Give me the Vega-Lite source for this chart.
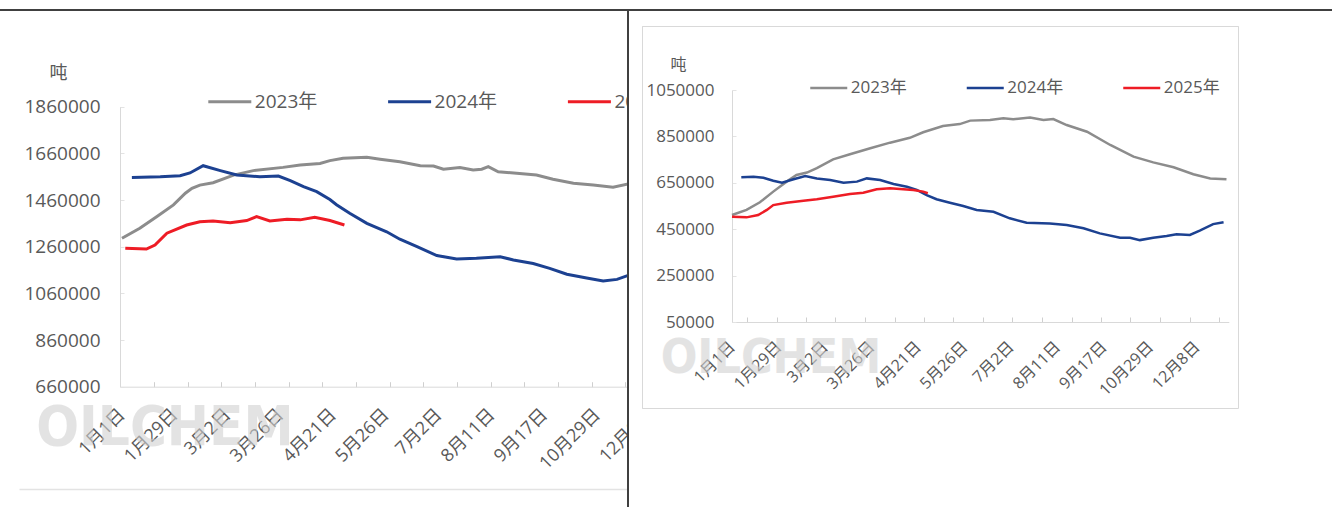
{
  "$schema": "https://vega.github.io/schema/vega-lite/v6.json",
  "usermeta": {"embedOptions": {"actions": false}},
  "padding": {"left": -2, "top": 9, "right": 0, "bottom": 0},
  "autosize": {"type": "pad"},
  "background": "white",
  "bounds": "flush",
  "spacing": 0,
  "datasets": {
    "left": [
      {"series": "2023年", "k": 0, "value": 1296000},
      {"series": "2023年", "k": 2.7, "value": 1339000},
      {"series": "2023年", "k": 5.3, "value": 1389000},
      {"series": "2023年", "k": 7.8, "value": 1439000},
      {"series": "2023年", "k": 9.6, "value": 1489000},
      {"series": "2023年", "k": 10.6, "value": 1510000},
      {"series": "2023年", "k": 11.8, "value": 1524000},
      {"series": "2023年", "k": 13.8, "value": 1534000},
      {"series": "2023年", "k": 16.9, "value": 1567000},
      {"series": "2023年", "k": 19.9, "value": 1586000},
      {"series": "2023年", "k": 24.4, "value": 1600000},
      {"series": "2023年", "k": 27.0, "value": 1610000},
      {"series": "2023年", "k": 30.0, "value": 1617000},
      {"series": "2023年", "k": 31.5, "value": 1629000},
      {"series": "2023年", "k": 33.5, "value": 1639000},
      {"series": "2023年", "k": 37.1, "value": 1643000},
      {"series": "2023年", "k": 39.1, "value": 1635000},
      {"series": "2023年", "k": 42.1, "value": 1624000},
      {"series": "2023年", "k": 45.2, "value": 1607000},
      {"series": "2023年", "k": 47.2, "value": 1606000},
      {"series": "2023年", "k": 48.7, "value": 1592000},
      {"series": "2023年", "k": 51.2, "value": 1599000},
      {"series": "2023年", "k": 53.2, "value": 1589000},
      {"series": "2023年", "k": 54.5, "value": 1592000},
      {"series": "2023年", "k": 55.5, "value": 1603000},
      {"series": "2023年", "k": 57.0, "value": 1581000},
      {"series": "2023年", "k": 59.8, "value": 1575000},
      {"series": "2023年", "k": 62.8, "value": 1567000},
      {"series": "2023年", "k": 65.3, "value": 1549000},
      {"series": "2023年", "k": 68.4, "value": 1532000},
      {"series": "2023年", "k": 71.4, "value": 1524000},
      {"series": "2023年", "k": 74.4, "value": 1515000},
      {"series": "2023年", "k": 76.7, "value": 1529000},
      {"series": "2023年", "k": 78.5, "value": 1546000},
      {"series": "2024年", "k": 1.5, "value": 1557000},
      {"series": "2024年", "k": 5.8, "value": 1560000},
      {"series": "2024年", "k": 8.8, "value": 1564000},
      {"series": "2024年", "k": 10.3, "value": 1576000},
      {"series": "2024年", "k": 12.3, "value": 1607000},
      {"series": "2024年", "k": 14.9, "value": 1586000},
      {"series": "2024年", "k": 17.4, "value": 1567000},
      {"series": "2024年", "k": 20.9, "value": 1560000},
      {"series": "2024年", "k": 23.7, "value": 1563000},
      {"series": "2024年", "k": 25.5, "value": 1543000},
      {"series": "2024年", "k": 27.5, "value": 1517000},
      {"series": "2024年", "k": 29.5, "value": 1496000},
      {"series": "2024年", "k": 31.5, "value": 1462000},
      {"series": "2024年", "k": 32.5, "value": 1440000},
      {"series": "2024年", "k": 34.5, "value": 1403000},
      {"series": "2024年", "k": 37.1, "value": 1360000},
      {"series": "2024年", "k": 40.1, "value": 1324000},
      {"series": "2024年", "k": 42.1, "value": 1292000},
      {"series": "2024年", "k": 44.7, "value": 1260000},
      {"series": "2024年", "k": 47.7, "value": 1222000},
      {"series": "2024年", "k": 50.7, "value": 1207000},
      {"series": "2024年", "k": 53.7, "value": 1210000},
      {"series": "2024年", "k": 57.3, "value": 1217000},
      {"series": "2024年", "k": 59.3, "value": 1203000},
      {"series": "2024年", "k": 62.3, "value": 1188000},
      {"series": "2024年", "k": 64.8, "value": 1167000},
      {"series": "2024年", "k": 67.4, "value": 1142000},
      {"series": "2024年", "k": 70.4, "value": 1126000},
      {"series": "2024年", "k": 72.9, "value": 1113000},
      {"series": "2024年", "k": 75.0, "value": 1120000},
      {"series": "2024年", "k": 76.7, "value": 1137000},
      {"series": "2024年", "k": 78.5, "value": 1152000},
      {"series": "2025年", "k": 0.5, "value": 1253000},
      {"series": "2025年", "k": 3.7, "value": 1250000},
      {"series": "2025年", "k": 5.0, "value": 1267000},
      {"series": "2025年", "k": 6.8, "value": 1318000},
      {"series": "2025年", "k": 9.8, "value": 1353000},
      {"series": "2025年", "k": 11.8, "value": 1367000},
      {"series": "2025年", "k": 13.8, "value": 1370000},
      {"series": "2025年", "k": 16.4, "value": 1363000},
      {"series": "2025年", "k": 18.9, "value": 1372000},
      {"series": "2025年", "k": 20.4, "value": 1389000},
      {"series": "2025年", "k": 22.4, "value": 1370000},
      {"series": "2025年", "k": 25.0, "value": 1378000},
      {"series": "2025年", "k": 27.0, "value": 1375000},
      {"series": "2025年", "k": 29.2, "value": 1386000},
      {"series": "2025年", "k": 31.5, "value": 1372000},
      {"series": "2025年", "k": 33.7, "value": 1353000}
    ],
    "right": [
      {"series": "2023年", "k": 0, "value": 511000},
      {"series": "2023年", "k": 2.5, "value": 533000},
      {"series": "2023年", "k": 4.8, "value": 566000},
      {"series": "2023年", "k": 7.1, "value": 612000},
      {"series": "2023年", "k": 9.4, "value": 655000},
      {"series": "2023年", "k": 11.1, "value": 684000},
      {"series": "2023年", "k": 12.9, "value": 694000},
      {"series": "2023年", "k": 14.6, "value": 713000},
      {"series": "2023年", "k": 17.4, "value": 751000},
      {"series": "2023年", "k": 20.3, "value": 773000},
      {"series": "2023年", "k": 23.8, "value": 799000},
      {"series": "2023年", "k": 27.2, "value": 823000},
      {"series": "2023年", "k": 30.6, "value": 844000},
      {"series": "2023年", "k": 32.9, "value": 868000},
      {"series": "2023年", "k": 36.3, "value": 895000},
      {"series": "2023年", "k": 39.2, "value": 903000},
      {"series": "2023年", "k": 41.0, "value": 918000},
      {"series": "2023年", "k": 44.4, "value": 921000},
      {"series": "2023年", "k": 46.7, "value": 928000},
      {"series": "2023年", "k": 48.4, "value": 924000},
      {"series": "2023年", "k": 51.3, "value": 931000},
      {"series": "2023年", "k": 53.6, "value": 921000},
      {"series": "2023年", "k": 55.3, "value": 925000},
      {"series": "2023年", "k": 57.6, "value": 899000},
      {"series": "2023年", "k": 61.1, "value": 870000},
      {"series": "2023年", "k": 65.1, "value": 813000},
      {"series": "2023年", "k": 69.1, "value": 763000},
      {"series": "2023年", "k": 72.5, "value": 738000},
      {"series": "2023年", "k": 76.0, "value": 717000},
      {"series": "2023年", "k": 79.4, "value": 687000},
      {"series": "2023年", "k": 82.3, "value": 669000},
      {"series": "2023年", "k": 85.1, "value": 665000},
      {"series": "2024年", "k": 1.6, "value": 674000},
      {"series": "2024年", "k": 3.7, "value": 676000},
      {"series": "2024年", "k": 5.4, "value": 672000},
      {"series": "2024年", "k": 7.1, "value": 659000},
      {"series": "2024年", "k": 8.6, "value": 650000},
      {"series": "2024年", "k": 10.6, "value": 665000},
      {"series": "2024年", "k": 12.6, "value": 679000},
      {"series": "2024年", "k": 14.6, "value": 669000},
      {"series": "2024年", "k": 16.9, "value": 662000},
      {"series": "2024年", "k": 19.2, "value": 650000},
      {"series": "2024年", "k": 21.5, "value": 655000},
      {"series": "2024年", "k": 23.2, "value": 669000},
      {"series": "2024年", "k": 25.5, "value": 662000},
      {"series": "2024年", "k": 27.8, "value": 645000},
      {"series": "2024年", "k": 30.1, "value": 633000},
      {"series": "2024年", "k": 31.8, "value": 619000},
      {"series": "2024年", "k": 33.5, "value": 597000},
      {"series": "2024年", "k": 35.2, "value": 579000},
      {"series": "2024年", "k": 37.5, "value": 564000},
      {"series": "2024年", "k": 39.8, "value": 550000},
      {"series": "2024年", "k": 42.1, "value": 533000},
      {"series": "2024年", "k": 45.0, "value": 525000},
      {"series": "2024年", "k": 47.8, "value": 497000},
      {"series": "2024年", "k": 50.7, "value": 478000},
      {"series": "2024年", "k": 54.7, "value": 475000},
      {"series": "2024年", "k": 57.6, "value": 468000},
      {"series": "2024年", "k": 60.5, "value": 454000},
      {"series": "2024年", "k": 63.3, "value": 432000},
      {"series": "2024年", "k": 66.8, "value": 413000},
      {"series": "2024年", "k": 68.5, "value": 413000},
      {"series": "2024年", "k": 70.2, "value": 403000},
      {"series": "2024年", "k": 72.5, "value": 413000},
      {"series": "2024年", "k": 74.8, "value": 421000},
      {"series": "2024年", "k": 76.5, "value": 428000},
      {"series": "2024年", "k": 78.8, "value": 425000},
      {"series": "2024年", "k": 80.5, "value": 444000},
      {"series": "2024年", "k": 82.8, "value": 472000},
      {"series": "2024年", "k": 84.6, "value": 480000},
      {"series": "2025年", "k": 0, "value": 504000},
      {"series": "2025年", "k": 2.5, "value": 501000},
      {"series": "2025年", "k": 4.5, "value": 511000},
      {"series": "2025年", "k": 6.0, "value": 533000},
      {"series": "2025年", "k": 7.1, "value": 554000},
      {"series": "2025年", "k": 9.4, "value": 564000},
      {"series": "2025年", "k": 12.3, "value": 573000},
      {"series": "2025年", "k": 14.6, "value": 579000},
      {"series": "2025年", "k": 17.4, "value": 590000},
      {"series": "2025年", "k": 20.3, "value": 602000},
      {"series": "2025年", "k": 22.6, "value": 607000},
      {"series": "2025年", "k": 24.9, "value": 622000},
      {"series": "2025年", "k": 27.2, "value": 626000},
      {"series": "2025年", "k": 28.9, "value": 623000},
      {"series": "2025年", "k": 31.2, "value": 619000},
      {"series": "2025年", "k": 32.9, "value": 612000},
      {"series": "2025年", "k": 33.7, "value": 605000}
    ],
    "mark": [{"label": "OILCHEM"}]
  },
  "hconcat": [
    {
      "width": 629,
      "height": 498,
      "resolve": {"scale": {"x": "independent"}, "axis": {"x": "independent"}},
      "layer": [
        {
          "data": {"name": "mark"},
          "mark": {"type": "text", "font": "Liberation Sans Narrow, DejaVu Sans Condensed, sans-serif", "fontWeight": "bold", "fontSize": 56, "fill": "#d2d2d2", "opacity": 0.6, "align": "center", "baseline": "middle"},
          "encoding": {
            "x": {
              "datum": 6.5, "type": "quantitative",
              "scale": {"domain": [-15.606, 87.424], "range": [20, 700], "nice": false, "zero": false},
              "axis": {"orient": "bottom", "offset": -19, "title": null, "labels": false, "ticks": false, "grid": false, "domainColor": "#e3e3e3", "domainWidth": 1.5}
            },
            "y": {"datum": 483000, "type": "quantitative", "axis": {"title": "吨"}},
            "text": {"field": "label"}
          }
        },
        {
          "data": {"name": "left"},
          "mark": {"type": "line", "strokeWidth": 3, "clip": true},
          "encoding": {
            "x": {
              "field": "k", "type": "quantitative",
              "scale": {"domain": [-0.3, 80.8], "range": [121, 656.3], "nice": false, "zero": false},
              "axis": {
                "orient": "bottom", "title": null, "grid": false, "offset": -121.3,
                "values": [0, 4.85, 8, 9.95, 15.05, 16, 20.15, 24, 25.25, 30.35, 32, 35.45, 40, 40.55, 45.65, 48, 50.75, 55.85, 56, 60.95, 64, 66.05, 71.15, 72, 76.25, 80],
                "tickCount": 200,
                "labelExpr": "datum.value % 8 === 0 ? ['1月1日','1月29日','3月2日','3月26日','4月21日','5月26日','7月2日','8月11日','9月17日','10月29日','12月8日'][datum.value / 8] : ''",
                "labelAngle": -45, "labelAlign": "right", "labelBaseline": "middle",
                "labelPadding": 30, "tickSize": -5, "tickColor": "#cfcfcf",
                "tickOpacity": {"condition": {"test": "datum.value % 8 === 0", "value": 0}, "value": 1},
                "domainColor": "#d9d9d9", "labelFontSize": 18, "labelColor": "#595959",
                "labelOverlap": false, "labelFlush": false, "labelBound": false
              }
            },
            "y": {
              "field": "value", "type": "quantitative",
              "scale": {"domain": [660000, 1860000], "range": [376.7, 96.7], "nice": false, "zero": false},
              "axis": {
                "title": "吨", "titleAngle": 0, "titleX": -62, "titleY": 63, "titleAlign": "center", "titleBaseline": "middle",
                "titleFontSize": 18, "titleFontWeight": "normal", "titleColor": "#595959",
                "values": [660000, 860000, 1060000, 1260000, 1460000, 1660000, 1860000],
                "format": "d", "offset": -121, "grid": false, "domainColor": "#d9d9d9",
                "tickSize": -4, "tickColor": "#e3e3e3", "labelPadding": 24, "labelFontSize": 19, "labelColor": "#595959"
              }
            },
            "color": {
              "field": "series", "type": "nominal",
              "scale": {"domain": ["2023年", "2024年", "2025年"], "range": ["#8c8c8c", "#1c4191", "#ee1c25"]},
              "legend": {
                "orient": "none", "legendX": 207.8, "legendY": 68.7, "direction": "horizontal", "title": null,
                "labelExpr": "datum.label === '2025年' ? '202' : datum.label",
                "symbolType": "stroke", "symbolSize": 1849, "symbolStrokeWidth": 3,
                "labelFontSize": 19, "labelColor": "#595959", "columnPadding": 63.8, "labelOffset": 2, "padding": 0
              }
            }
          }
        }
      ]
    },
    {
      "width": 705,
      "height": 498,
      "resolve": {"scale": {"x": "independent", "y": "independent"}, "axis": {"x": "independent", "y": "independent"}},
      "layer": [
        {
          "data": {"name": "mark"},
          "mark": {"type": "text", "font": "Liberation Sans Narrow, DejaVu Sans Condensed, sans-serif", "fontWeight": "bold", "fontSize": 48, "fill": "#d2d2d2", "opacity": 0.6, "align": "center", "baseline": "middle"},
          "encoding": {
            "x": {
              "datum": 6.7, "type": "quantitative",
              "scale": {"domain": [-15.49, 87.09], "range": [14, 610], "nice": false, "zero": false},
              "axis": {"orient": "top", "offset": -16, "title": null, "labels": false, "grid": false,
                       "values": [-15.49, 87.09], "tickCount": 100, "tickSize": -382, "tickColor": "#d9d9d9", "tickWidth": 1,
                       "domainColor": "#d9d9d9", "domainWidth": 1}
            },
            "y": {
              "datum": -109500, "type": "quantitative",
              "scale": {"domain": [-320680, 1325860], "range": [398, 16], "nice": false, "zero": false},
              "axis": {"orient": "left", "offset": -14, "title": null, "labels": false, "grid": false,
                       "values": [-320680, 1325860], "tickCount": 100, "tickSize": -596, "tickColor": "#d9d9d9", "tickWidth": 1,
                       "domainColor": "#d9d9d9", "domainWidth": 1}
            },
            "text": {"field": "label"}
          }
        },
        {
          "data": {"name": "right"},
          "mark": {"type": "line", "strokeWidth": 2.5, "clip": true},
          "encoding": {
            "x": {
              "field": "k", "type": "quantitative",
              "scale": {"domain": [0, 85.5], "range": [104, 600.8], "nice": false, "zero": false},
              "axis": {
                "orient": "bottom", "title": null, "grid": false, "offset": -186,
                "values": [0, 2.58, 7.66, 8, 12.73, 16, 17.81, 22.89, 24, 27.97, 32, 33.04, 38.12, 40, 43.2, 48, 48.27, 53.35, 56, 58.43, 63.5, 64, 68.58, 72, 73.66, 78.74, 80, 83.81],
                "tickCount": 200,
                "labelExpr": "datum.value % 8 === 0 ? ['1月1日','1月29日','3月2日','3月26日','4月21日','5月26日','7月2日','8月11日','9月17日','10月29日','12月8日'][datum.value / 8] : ''",
                "labelAngle": -45, "labelAlign": "right", "labelBaseline": "middle",
                "labelPadding": 27, "tickSize": -5, "tickColor": "#cfcfcf",
                "tickOpacity": {"condition": {"test": "datum.value % 8 === 0", "value": 0}, "value": 1},
                "domainColor": "#d9d9d9", "labelFontSize": 16, "labelColor": "#595959",
                "labelOverlap": false, "labelFlush": false, "labelBound": false
              }
            },
            "y": {
              "field": "value", "type": "quantitative",
              "scale": {"domain": [50000, 1050000], "range": [312, 80], "nice": false, "zero": false},
              "axis": {
                "orient": "left",
                "title": "吨", "titleAngle": 0, "titleX": -54, "titleY": 54, "titleAlign": "center", "titleBaseline": "middle",
                "titleFontSize": 16, "titleFontWeight": "normal", "titleColor": "#595959",
                "values": [50000, 250000, 450000, 650000, 850000, 1050000],
                "format": "d", "offset": -104, "grid": false, "domainColor": "#d9d9d9",
                "tickSize": -4, "tickColor": "#e3e3e3", "labelPadding": 22, "labelFontSize": 17, "labelColor": "#595959"
              }
            },
            "color": {
              "field": "series", "type": "nominal",
              "scale": {"domain": ["2023年", "2024年", "2025年"], "range": ["#8c8c8c", "#1c4191", "#ee1c25"]},
              "legend": {
                "orient": "none", "legendX": 180.75, "legendY": 58, "direction": "horizontal", "title": null,
                "symbolType": "stroke", "symbolSize": 1369, "symbolStrokeWidth": 2.5,
                "labelFontSize": 17, "labelColor": "#595959", "columnPadding": 54.5, "labelOffset": 2, "padding": 0
              }
            }
          }
        }
      ]
    }
  ],
  "resolve": {"legend": {"color": "independent"}},
  "config": {
    "font": "Open Sans, Noto Sans CJK SC",
    "view": {"stroke": "#404040", "strokeWidth": 2, "fill": "white"},
    "axis": {"grid": false}
  }
}
